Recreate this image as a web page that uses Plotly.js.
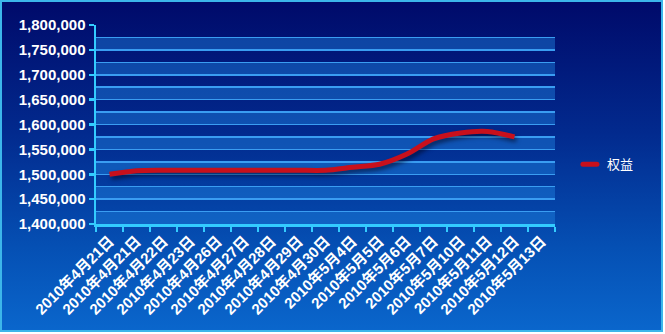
<!DOCTYPE html>
<html>
<head>
<meta charset="utf-8">
<script src="https://cdn.plot.ly/plotly-3.0.1.min.js"></script>
<style>
  html, body { margin: 0; padding: 0; background: #ffffff; }
  #wrap { position: relative; width: 665px; height: 334px; }
  #bg { position: absolute; left: 0; top: 0; width: 663px; height: 332px; box-sizing: border-box;
        border: 2px solid #3cb6ea;
        background: linear-gradient(to bottom, #000a6a 0%, #022a8e 40%, #0550b4 75%, #0a66cc 100%); }
  #chart { position: absolute; left: 0; top: 0; width: 665px; height: 334px; }
  .scatterlayer .js-line { filter: drop-shadow(2px 3px 2px rgba(0,0,20,0.55)); }
</style>
</head>
<body>
<div id="wrap"><div id="bg"></div><div id="chart"></div></div>
<script>
const categories = ["2010年4月21日","2010年4月21日","2010年4月22日","2010年4月23日","2010年4月26日",
  "2010年4月27日","2010年4月28日","2010年4月29日","2010年4月30日","2010年5月4日","2010年5月5日",
  "2010年5月6日","2010年5月7日","2010年5月10日","2010年5月11日","2010年5月12日","2010年5月13日"];
const equity = [1500000,1507000,1508000,1508000,1508000,1508000,1508000,1508000,1508000,
  1514000,1520000,1540000,1571000,1583000,1586000,1575000,null];
const seriesName = "权益";
const yMin = 1400000, yMax = 1800000, yStep = 50000, yMinor = 25000;

const xIdx = categories.map((c, i) => i);
const boundaries = [];
for (let i = 0; i <= categories.length; i++) boundaries.push(i - 0.5);

const bands = [];
for (let v = yMin; v < yMax; v += yStep) {
  bands.push({type: 'rect', xref: 'paper', yref: 'y', x0: 0, x1: 1, y0: v, y1: v + yMinor,
    fillcolor: 'rgba(30,130,225,0.45)', line: {width: 0}, layer: 'below'});
}

const font = {family: '"Liberation Sans", Arial, "Noto Sans CJK SC", sans-serif', color: '#ffffff', size: 15, weight: 'bold'};

const trace = {
  x: xIdx, y: equity, type: 'scatter', mode: 'lines', name: seriesName,
  line: {color: '#c8101c', width: 5, shape: 'spline', smoothing: 0.8},
  connectgaps: false, hoverinfo: 'skip'
};

const layout = {
  width: 665, height: 334,
  margin: {l: 96, r: 110, t: 25, b: 110},
  paper_bgcolor: 'rgba(0,0,0,0)', plot_bgcolor: 'rgba(0,0,0,0)',
  font: font,
  showlegend: true,
  legend: {x: 1.026, y: 0.3, xanchor: 'left', yanchor: 'middle', bgcolor: 'rgba(0,0,0,0)',
    font: {family: '"Noto Sans CJK SC", sans-serif', size: 13, color: '#ffffff', weight: 'normal'}},
  xaxis: {
    range: [-0.5, categories.length - 0.5], tickmode: 'array', tickvals: xIdx, ticktext: categories,
    tickangle: -45, ticks: '', ticklen: 0, showgrid: false, zeroline: false,
    showline: true, linecolor: '#33ccff', linewidth: 2.5,
    tickfont: font,
    minor: {tickmode: 'array', tickvals: boundaries, ticks: 'outside', ticklen: 5, tickwidth: 2.5, tickcolor: '#33ccff', showgrid: false}
  },
  yaxis: {
    range: [yMin, yMax], dtick: yStep, tick0: yMin, tickformat: ',d',
    ticks: 'outside', ticklen: 5, tickwidth: 2.5, tickcolor: '#33ccff',
    showline: true, linecolor: '#33ccff', linewidth: 2.5,
    showgrid: true, gridcolor: '#3a9df2', gridwidth: 1.5, zeroline: false,
    minor: {dtick: yMinor, showgrid: true, gridcolor: '#3a9df2', gridwidth: 1.5, ticks: ''},
    tickfont: font
  },
  shapes: bands
};

Plotly.newPlot('chart', [trace], layout, {displayModeBar: false, staticPlot: true}).then(function (gd) {
  // shorten the legend sample line like the original (short thick stroke)
  gd.querySelectorAll('.legend .legendlines path').forEach(function (p) {
    p.setAttribute('d', 'M16,0h14');
    p.style.strokeLinecap = 'round';
  });
});
</script>
</body>
</html>
